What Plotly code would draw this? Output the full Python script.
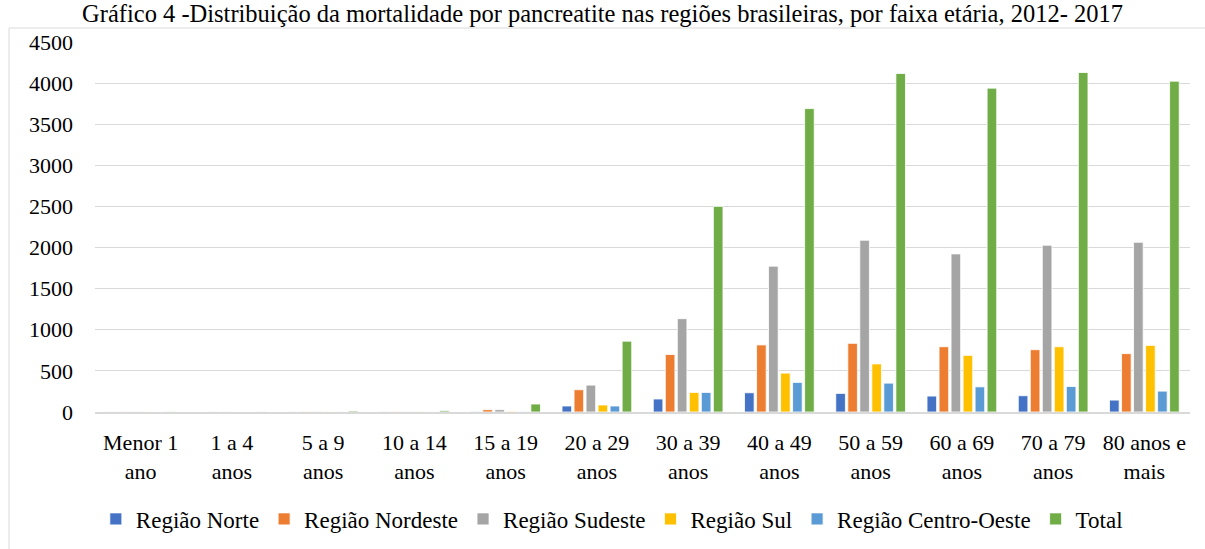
import plotly.graph_objects as go

categories = ["Menor 1<br>ano", "1 a 4<br>anos", "5 a 9<br>anos", "10 a 14<br>anos", "15 a 19<br>anos",
              "20 a 29<br>anos", "30 a 39<br>anos", "40 a 49<br>anos", "50 a 59<br>anos",
              "60 a 69<br>anos", "70 a 79<br>anos", "80 anos e<br>mais"]

norte = [1, 0, 1, 2, 5, 73, 158, 234, 226, 194, 198, 145]
nordeste = [2, 1, 3, 4, 28, 271, 699, 816, 835, 794, 758, 710]
sudeste = [2, 1, 5, 6, 28, 327, 1135, 1774, 2089, 1923, 2028, 2064]
sul = [1, 0, 2, 2, 8, 85, 238, 473, 585, 689, 794, 810]
centro_oeste = [0, 0, 1, 1, 6, 73, 238, 360, 351, 306, 310, 254]
total = [6, 2, 12, 15, 97, 861, 2501, 3690, 4117, 3939, 4129, 4024]

series_names = ["Região Norte", "Região Nordeste", "Região Sudeste", "Região Sul",
                "Região Centro-Oeste", "Total"]
series_values = [norte, nordeste, sudeste, sul, centro_oeste, total]
colors = ["#4472C4", "#ED7D31", "#A5A5A5", "#FFC000", "#5B9BD5", "#70AD47"]

y_ticks = [0, 500, 1000, 1500, 2000, 2500, 3000, 3500, 4000, 4500]

FONT = "Liberation Serif"

fig = go.Figure()
for name, vals, col in zip(series_names, series_values, colors):
    fig.add_trace(go.Bar(
        x=categories, y=vals, name=name,
        marker=dict(color=col, line=dict(color="white", width=0.8)),
    ))

fig.update_layout(
    width=1205, height=549,
    barmode="group", bargap=0.21, bargroupgap=0.2,
    plot_bgcolor="white", paper_bgcolor="white",
    margin=dict(l=95, r=15, t=42, b=137, autoexpand=False),
    font=dict(family=FONT, size=22, color="black"),
    title=dict(
        text="Gráfico 4 -Distribuição da mortalidade por pancreatite nas regiões brasileiras, por faixa etária, 2012- 2017",
        x=0.5, xanchor="center", xref="container",
        y=1 - 13 / 549, yanchor="middle", yref="container",
        font=dict(family=FONT, size=24.5, color="black"),
    ),
    xaxis=dict(
        showgrid=False, showline=True, linecolor="#d9d9d9", linewidth=1.5,
        ticks="", tickfont=dict(family=FONT, size=22, color="black"),
        ticklabelstandoff=10,
    ),
    yaxis=dict(
        range=[0, 4500], tickvals=y_ticks, showgrid=True, gridcolor="#d9d9d9",
        gridwidth=1, zeroline=False, showline=False, ticks="",
        tickfont=dict(family=FONT, size=22, color="black"),
        ticklabelstandoff=21,
    ),
    legend=dict(
        orientation="h", x=0.472, xanchor="center", y=-0.289, yanchor="middle",
        font=dict(family=FONT, size=23, color="black"),
        itemwidth=30, tracegroupgap=0,
    ),
    shapes=[dict(
        type="rect", xref="paper", yref="paper",
        x0=-86 / 1095, x1=1.2, y0=-1.0, y1=(412 - 28) / 370,
        line=dict(color="#d9d9d9", width=1), fillcolor="rgba(0,0,0,0)", layer="below",
    )],
)

fig.write_html("out.html", config={"displayModeBar": False},
               post_script="document.body.style.margin='0';document.body.style.padding='0';")
